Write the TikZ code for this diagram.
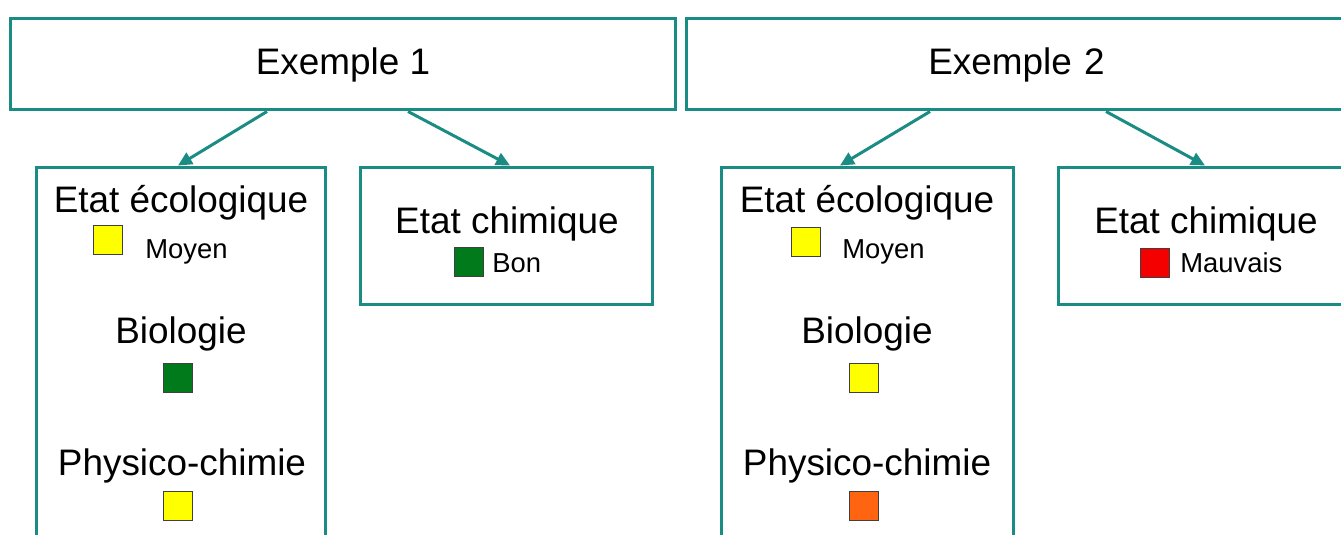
\documentclass[tikz,border=0pt]{standalone}
\usepackage{fontspec}
\setmainfont{Liberation Sans}
\usetikzlibrary{arrows.meta,positioning,calc}
\definecolor{eteal}{HTML}{1A8C84}
\definecolor{ejaune}{HTML}{FFFF00}
\definecolor{evert}{HTML}{007A1A}
\definecolor{eorange}{HTML}{FF6410}
\definecolor{erouge}{HTML}{F50000}
\tikzset{
  cadre/.style={draw=eteal,line width=0.06cm,fill=white,inner sep=0pt},
  titre/.style={font=\fontsize{21}{24}\selectfont,text depth=0.12cm},
  lbl/.style={font=\fontsize{21}{24}\selectfont,anchor=base,inner sep=0pt},
  petit/.style={font=\fontsize{15.6}{18}\selectfont,anchor=base west,inner sep=0pt},
  pastille/.style={draw=black!75,line width=0.5pt,minimum size=0.58cm,inner sep=0pt},
  fl/.style={-{Triangle[length=0.28cm,width=0.26cm]},line width=0.06cm,draw=eteal},
}

\begin{document}
\begin{tikzpicture}[x=0.02cm,y=-0.02cm]
  \useasboundingbox (0,0) rectangle (1341,534);
  \clip (0,0) rectangle (1341,534);
  % exemple 1
  \node[cadre,titre,minimum width=13.32cm,minimum height=1.84cm] (ex1) at (343,64) {Exemple 1};
  \node[cadre,minimum width=5.8cm,minimum height=8.06cm] (eco1) at (181,368.5) {};
  \node[cadre,minimum width=5.86cm,minimum height=2.76cm] (chi1) at (506.5,236) {};
  \draw[fl] ($(ex1.south)+(-76,0)$) -- ($(eco1.north)+(-3,0)$);
  \draw[fl] ($(ex1.south)+(65,0)$) -- ($(chi1.north)+(3.5,0)$);
  \node[lbl] (eco1t) at (181,212) {Etat écologique};
  \node[pastille,fill=ejaune] (eco1c) at (107.5,239.5) {};
  \node[petit] (eco1m) at (145,258) {Moyen};
  \node[lbl] (bio1) at (181,343) {Biologie};
  \node[pastille,fill=evert] (bio1c) at (178,378) {};
  \node[lbl] (phy1) at (182,475) {Physico-chimie};
  \node[pastille,fill=ejaune] (phy1c) at (178,505.5) {};
  \node[lbl] (chi1t) at (507,233) {Etat chimique};
  \node[pastille,fill=evert] (chi1c) at (468.5,262) {};
  \node[petit] (chi1m) at (492,272) {Bon};
  % exemple 2
  \node[cadre,titre,minimum width=13.48cm,minimum height=1.84cm,text width=12.0cm,align=center] (ex2) at (1023,64) {\hspace*{-0.26cm}Exemple 2};
  \node[cadre,minimum width=5.86cm,minimum height=8.06cm] (eco2) at (867.5,368.5) {};
  \node[cadre,minimum width=6.44cm,minimum height=2.76cm] (chi2) at (1219,236) {};
  \draw[fl] ($(ex2.south)+(-93,0)$) -- ($(eco2.north)+(-27.5,0)$);
  \draw[fl] ($(ex2.south)+(83,0)$) -- ($(chi2.north)+(-14,0)$);
  \node[lbl] (eco2t) at (867,212) {Etat écologique};
  \node[pastille,fill=ejaune] (eco2c) at (806,242) {};
  \node[petit] (eco2m) at (842,258) {Moyen};
  \node[lbl] (bio2) at (867,343) {Biologie};
  \node[pastille,fill=ejaune] (bio2c) at (864,378) {};
  \node[lbl] (phy2) at (867,475) {Physico-chimie};
  \node[pastille,fill=eorange] (phy2c) at (864,505.5) {};
  \node[lbl] (chi2t) at (1206,233) {Etat chimique};
  \node[pastille,fill=erouge] (chi2c) at (1155,262.5) {};
  \node[petit] (chi2m) at (1180,272) {Mauvais};
\end{tikzpicture}
\end{document}
